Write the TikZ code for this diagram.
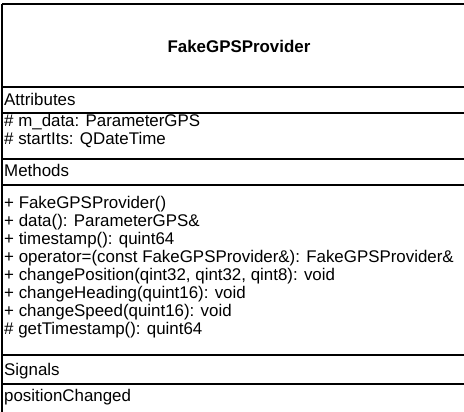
\documentclass[tikz,border=0pt]{standalone}
\usepackage{fontspec}
\setmainfont{Liberation Sans}

\begin{document}
\begin{tikzpicture}[x=1pt, y=-1pt, font=\fontsize{16.9}{18}\selectfont,
  row/.style={anchor=base west, inner sep=0pt},
  rule/.style={line width=1.2pt}]

\useasboundingbox (0,0) rectangle (464,412);
\clip (0,0) rectangle (464,412);

% outer frame of the class box (runs past the right and bottom edges)
\draw[rule] (2,4) -- (476,4);
\draw[rule] (2,4) -- (2,430);

% lines between the compartments
\foreach \y in {87,113,159,185,355,384}
  \draw[rule] (2,\y) -- (476,\y);

% class name
\node[font=\bfseries\fontsize{16.9}{18}\selectfont, anchor=base, inner sep=0pt] (name) at (239,53) {FakeGPSProvider};

% attributes
\node[row] (attr) at (4,106) {Attributes};
\node[row] (a1) at (4,127) {\# m\_data: ParameterGPS};
\node[row] (a2) at (4,145) {\# startIts: QDateTime};

% methods
\node[row] (meth) at (4,176) {Methods};
\foreach \t [count=\i] in {+ FakeGPSProvider(),
    + data(): ParameterGPS\&,
    + timestamp(): quint64,
    {+ operator=(const FakeGPSProvider\&): FakeGPSProvider\&},
    {+ changePosition(qint32, qint32, qint8): void},
    + changeHeading(quint16): void,
    + changeSpeed(quint16): void,
    \# getTimestamp(): quint64}
  \node[row] (m\i) at (4,{208+18*(\i-1)}) {\t};

% signals
\node[row] (sig) at (4,375) {Signals};
\node[row] (s1) at (4,401) {positionChanged};

\end{tikzpicture}
\end{document}
